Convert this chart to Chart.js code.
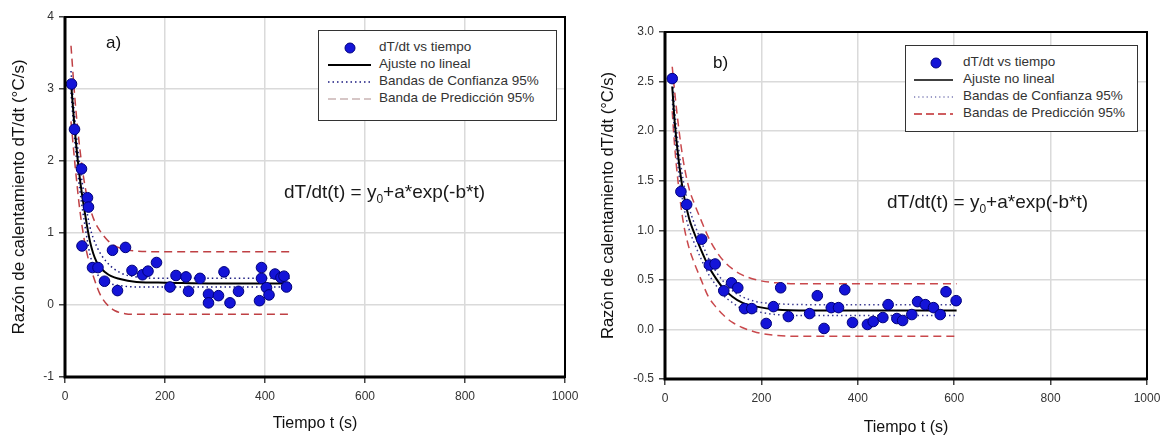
<!DOCTYPE html>
<html>
<head>
<meta charset="utf-8">
<script src="https://cdn.jsdelivr.net/npm/chart.js@4.4.1/dist/chart.umd.min.js"></script>
<style>
  body { margin: 0; background: #fff; font-family: 'Liberation Sans', Arial, sans-serif; }
  .wrap { position: absolute; top: 0; width: 585px; height: 438px; }
  .tag { position: absolute; font-size: 17px; color: #111; }
  .eq { position: absolute; font-size: 19px; color: #1a1a1a; white-space: nowrap; }
  .eq sub { font-size: 12px; }
  .legend { position: absolute; border: 1px solid #333; background: #fff; }
  .row { position: absolute; left: 0; height: 16px; width: 100%; }
  .row svg { position: absolute; top: 0; }
  .row span { position: absolute; top: -1px; font-size: 13.5px; color: #333; white-space: nowrap; }
</style>
</head>
<body>
<div class="wrap" style="left:0"><canvas id="chartA" width="585" height="438"></canvas></div>
<div class="wrap" style="left:585px"><canvas id="chartB" width="585" height="438"></canvas></div>

<div class="tag" style="left:106px;top:33px">a)</div>
<div class="tag" style="left:713px;top:53px">b)</div>
<div class="eq" style="left:284px;top:181px">dT/dt(t) = y<sub>0</sub>+a*exp(-b*t)</div>
<div class="eq" style="left:887px;top:191px">dT/dt(t) = y<sub>0</sub>+a*exp(-b*t)</div>

<div class="legend" style="left:318px;top:30px;width:237px;height:89px">
  <div class="row" style="top:9px"><svg width="60" height="16"><circle cx="31" cy="8" r="5" fill="#1414d8" stroke="#000080"/></svg><span style="left:60px">dT/dt vs tiempo</span></div>
  <div class="row" style="top:26px"><svg width="60" height="16"><line x1="9" y1="8" x2="52" y2="8" stroke="#000" stroke-width="2"/></svg><span style="left:60px">Ajuste no lineal</span></div>
  <div class="row" style="top:43px"><svg width="60" height="16"><line x1="9" y1="8" x2="52" y2="8" stroke="#1a1a80" stroke-width="1.5" stroke-dasharray="1.5,3"/></svg><span style="left:60px">Bandas de Confianza 95%</span></div>
  <div class="row" style="top:60px"><svg width="60" height="16"><line x1="9" y1="8" x2="52" y2="8" stroke="#c9b4b4" stroke-width="1.5" stroke-dasharray="8,4"/></svg><span style="left:60px">Banda de Predicción 95%</span></div>
</div>

<div class="legend" style="left:905px;top:45px;width:231px;height:85px">
  <div class="row" style="top:9px"><svg width="58" height="16"><circle cx="30" cy="8" r="5" fill="#1414d8" stroke="#000080"/></svg><span style="left:57px">dT/dt vs tiempo</span></div>
  <div class="row" style="top:26px"><svg width="58" height="16"><line x1="8" y1="8" x2="47" y2="8" stroke="#000" stroke-width="1.5"/></svg><span style="left:57px">Ajuste no lineal</span></div>
  <div class="row" style="top:43px"><svg width="58" height="16"><line x1="8" y1="8" x2="47" y2="8" stroke="#3a3a90" stroke-width="1.2" stroke-dasharray="1.2,3"/></svg><span style="left:57px">Bandas de Confianza 95%</span></div>
  <div class="row" style="top:60px"><svg width="58" height="16"><line x1="8" y1="8" x2="47" y2="8" stroke="#c0282d" stroke-width="1.5" stroke-dasharray="8,4"/></svg><span style="left:57px">Bandas de Predicción 95%</span></div>
</div>

<script>
// ---- datos a) ----
const timesA = [13, 19, 33, 34, 45, 47, 55, 66, 79, 95, 105, 121, 134, 155, 166, 183, 210, 222, 242, 247, 270, 287, 287, 307, 318, 330, 347, 389, 393, 393, 403, 408, 420, 432, 438, 443];
const rateA  = [3.07, 2.44, 1.89, 0.82, 1.49, 1.36, 0.52, 0.52, 0.33, 0.76, 0.20, 0.80, 0.48, 0.42, 0.47, 0.59, 0.25, 0.41, 0.39, 0.19, 0.37, 0.15, 0.03, 0.13, 0.46, 0.03, 0.19, 0.06, 0.52, 0.37, 0.24, 0.14, 0.43, 0.38, 0.40, 0.25];

const curveTimesA = [12, 20, 30, 40, 50, 63, 83, 110, 143, 200, 300, 450];
const fitA     = [3.10, 2.40, 1.74, 1.27, 0.88, 0.60, 0.44, 0.36, 0.32, 0.31, 0.30, 0.30];
const confUpA  = [3.25, 2.56, 1.92, 1.46, 1.08, 0.82, 0.60, 0.45, 0.39, 0.37, 0.37, 0.37];
const confLoA  = [2.95, 2.24, 1.58, 1.10, 0.70, 0.45, 0.32, 0.27, 0.25, 0.25, 0.25, 0.25];
const predTimesA = [12, 20, 30, 40, 50, 60, 70, 85, 100, 120, 140, 200, 450];
const predUpA  = [3.60, 2.85, 2.15, 1.65, 1.35, 1.15, 1.03, 0.90, 0.82, 0.77, 0.75, 0.74, 0.74];
const predLoA  = [2.55, 1.95, 1.30, 0.85, 0.55, 0.33, 0.15, 0.00, -0.08, -0.12, -0.13, -0.13, -0.13];

// ---- datos b) ----
const timesB = [15, 33, 45, 76, 92, 104, 122, 138, 151, 165, 180, 210, 225, 240, 256, 300, 316, 330, 345, 360, 373, 389, 420, 432, 452, 463, 481, 493, 512, 524, 540, 557, 571, 583, 604];
const rateB  = [2.53, 1.39, 1.26, 0.91, 0.65, 0.66, 0.39, 0.47, 0.42, 0.21, 0.21, 0.06, 0.23, 0.42, 0.13, 0.16, 0.34, 0.01, 0.22, 0.22, 0.40, 0.07, 0.05, 0.08, 0.12, 0.25, 0.11, 0.09, 0.15, 0.28, 0.25, 0.22, 0.15, 0.38, 0.29];

const curveTimesB = [15, 20, 28, 38, 50, 60, 75, 90, 105, 120, 140, 160, 190, 230, 300, 605];
const fitB     = [2.45, 2.10, 1.72, 1.38, 1.12, 0.98, 0.80, 0.64, 0.52, 0.42, 0.33, 0.27, 0.23, 0.20, 0.19, 0.19];
const confUpB  = [2.58, 2.22, 1.84, 1.50, 1.23, 1.08, 0.89, 0.72, 0.59, 0.49, 0.39, 0.33, 0.28, 0.26, 0.25, 0.25];
const confLoB  = [2.32, 1.98, 1.60, 1.26, 1.01, 0.88, 0.71, 0.56, 0.45, 0.35, 0.27, 0.21, 0.18, 0.15, 0.14, 0.14];
const predUpB  = [2.65, 2.40, 2.05, 1.70, 1.42, 1.28, 1.10, 0.93, 0.80, 0.70, 0.61, 0.55, 0.50, 0.47, 0.46, 0.46];
const predLoB  = [2.20, 1.85, 1.45, 1.08, 0.82, 0.68, 0.50, 0.33, 0.23, 0.15, 0.07, 0.02, -0.03, -0.06, -0.07, -0.07];

const xTicks = [0, 200, 400, 600, 800, 1000];
const yTitle = 'Razón de calentamiento dT/dt (°C/s)';
const xTitle = 'Tiempo t (s)';

Chart.defaults.font.family = "'Liberation Sans', Arial, sans-serif";

function pts(xs, ys) {
    return xs.map((x, i) => ({ x: x, y: ys[i] }));
}

// cadre noir autour de la zone de tracé
const framePlugin = {
    id: 'frame',
    afterDatasetsDraw(chart) {
        const { ctx, chartArea: a } = chart;
        ctx.save();
        ctx.strokeStyle = '#000';
        ctx.lineWidth = 2;
        ctx.strokeRect(a.left, a.top, a.right - a.left, a.bottom - a.top);
        ctx.lineWidth = 3;
        ctx.beginPath();
        ctx.moveTo(a.left, a.top);
        ctx.lineTo(a.left, a.bottom);
        ctx.lineTo(a.right, a.bottom);
        ctx.stroke();
        ctx.restore();
    }
};

function makeChart(id, cfg) {
    const line = (data, color, width, dash) => ({
        data: data, showLine: true, pointRadius: 0, borderColor: color,
        borderWidth: width, borderDash: dash, cubicInterpolationMode: 'monotone', fill: false
    });
    return new Chart(document.getElementById(id), {
        type: 'scatter',
        data: {
            datasets: [
                { data: cfg.points, pointRadius: 5.3, pointBackgroundColor: '#1414d8', pointBorderColor: '#00007a', pointBorderWidth: 1 },
                line(cfg.fit, '#000', 2, []),
                line(cfg.confUp, cfg.confColor, 1.5, [1.5, 3]),
                line(cfg.confLo, cfg.confColor, 1.5, [1.5, 3]),
                line(cfg.predUp, cfg.predColor, 1.5, [8, 5]),
                line(cfg.predLo, cfg.predColor, 1.5, [8, 5])
            ]
        },
        options: {
            responsive: false,
            animation: false,
            layout: { padding: cfg.padding },
            plugins: { legend: { display: false }, tooltip: { enabled: false } },
            scales: {
                x: {
                    type: 'linear', min: 0, max: 1000,
                    afterBuildTicks: s => { s.ticks = xTicks.map(v => ({ value: v })); },
                    afterFit: s => { s.height = cfg.xHeight; },
                    grid: { color: '#dadada', lineWidth: 1.5, tickColor: '#444', tickLength: 6 },
                    border: { display: false },
                    ticks: { color: '#333', font: { size: 12 }, padding: 6, callback: v => String(v) },
                    title: { display: true, text: xTitle, color: '#111', font: { size: 16 }, padding: { top: 0, bottom: cfg.xTitlePad } }
                },
                y: {
                    min: cfg.yMin, max: cfg.yMax,
                    afterBuildTicks: s => { s.ticks = cfg.yTicks.map(v => ({ value: v })); },
                    afterFit: s => { s.width = cfg.yWidth; },
                    grid: { color: '#dadada', lineWidth: 1.5, tickColor: '#444', tickLength: 6 },
                    border: { display: false },
                    ticks: { color: '#333', font: { size: 12 }, padding: 5, callback: cfg.yFmt },
                    title: { display: true, text: yTitle, color: '#111', font: { size: cfg.yTitleSize }, padding: { top: cfg.yTitlePad, bottom: 0 } }
                }
            }
        },
        plugins: [framePlugin]
    });
}

const chartA = makeChart('chartA', {
    points: pts(timesA, rateA),
    fit: pts(curveTimesA, fitA),
    confUp: pts(curveTimesA, confUpA),
    confLo: pts(curveTimesA, confLoA),
    predUp: pts(predTimesA, predUpA),
    predLo: pts(predTimesA, predLoA),
    confColor: '#1a1a80',
    predColor: 'rgba(180,30,35,0.85)',
    padding: { top: 17, right: 20, left: 0, bottom: 0 },
    xHeight: 61, yWidth: 65,
    yMin: -1, yMax: 4, yTicks: [-1, 0, 1, 2, 3, 4],
    yFmt: v => String(v),
    xTitlePad: 5, yTitlePad: 9, yTitleSize: 17
});

const chartB = makeChart('chartB', {
    points: pts(timesB, rateB),
    fit: pts(curveTimesB, fitB),
    confUp: pts(curveTimesB, confUpB),
    confLo: pts(curveTimesB, confLoB),
    predUp: pts(curveTimesB, predUpB),
    predLo: pts(curveTimesB, predLoB),
    confColor: '#3a3a90',
    predColor: 'rgba(192,40,45,0.85)',
    padding: { top: 32, right: 23, left: 0, bottom: 0 },
    xHeight: 59, yWidth: 80,
    yMin: -0.5, yMax: 3, yTicks: [-0.5, 0, 0.5, 1, 1.5, 2, 2.5, 3],
    yFmt: v => v.toFixed(1),
    xTitlePad: 1, yTitlePad: 14, yTitleSize: 16.5
});
</script>
</body>
</html>
